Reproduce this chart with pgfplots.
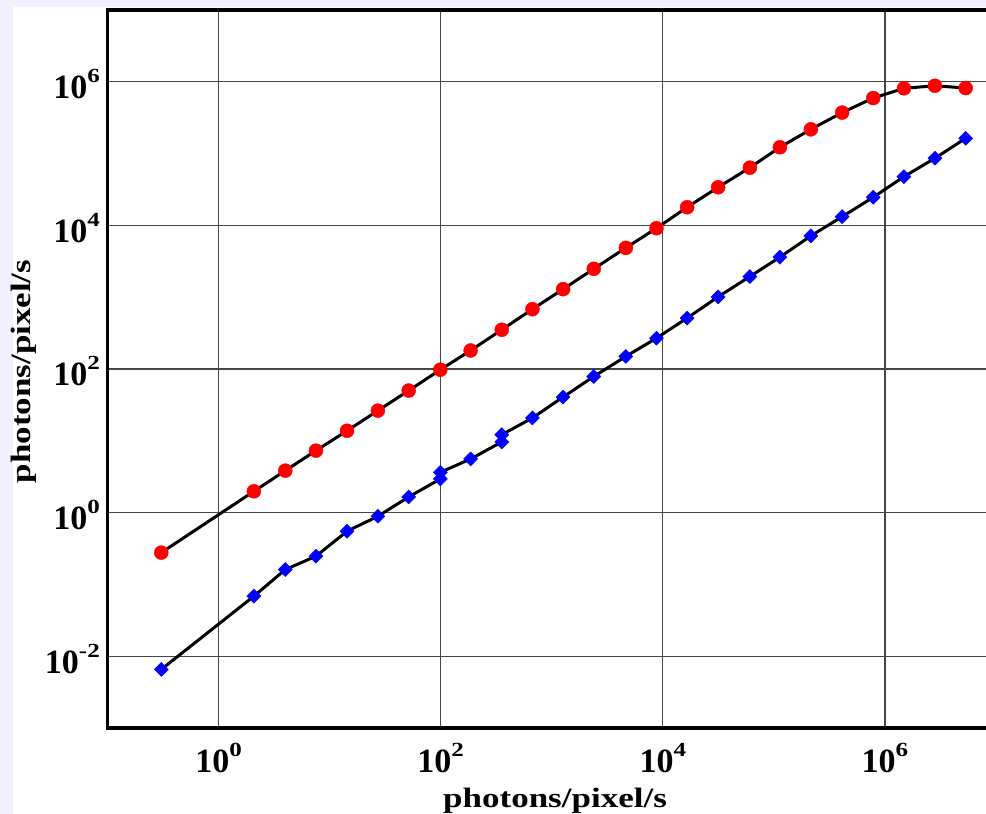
\documentclass[border=0pt]{standalone}
\usepackage{pgfplots}
\pgfplotsset{compat=1.18}
\usepackage{fontspec}
\setmainfont{Liberation Serif}
\newfontfamily\labfont[FakeStretch=1.25]{Liberation Serif}
\definecolor{lav}{RGB}{240,240,255}
\newcommand{\tlab}[1]{{\fontsize{34}{36}\selectfont\bfseries 10}\raisebox{16pt}{\labfont\fontsize{20}{20}\selectfont\bfseries #1}}
\begin{document}
\begin{tikzpicture}
\useasboundingbox (0,0) rectangle (986pt,814pt);
\fill[lav] (0,0) rectangle (986pt,814pt);
\fill[white] (13pt,0) rectangle (986pt,807pt);
\begin{axis}[
  at={(107.5pt,86pt)}, anchor=south west,
  scale only axis, width=888.5pt, height=718pt,
  xmode=log, ymode=log,
  xmin=0.1, xmax=1e7, ymin=1e-3, ymax=1e7,
  xtick={1,100,10000,1000000},
  xticklabels={\tlab{0},\tlab{2},\tlab{4},\tlab{6}},
  ytick={0.01,1,100,10000,1000000},
  yticklabels={\tlab{-2},\tlab{0},\tlab{2},\tlab{4},\tlab{6}},
  minor xtick={}, minor ytick={},
  xmajorgrids, ymajorgrids,
  major grid style={line width=1.3pt, black!72},
  axis line style={line width=3.5pt},
  major tick length=0pt,
  xticklabel style={anchor=north, inner sep=0pt, yshift=-15pt},
  yticklabel style={anchor=east, inner sep=0pt, xshift=-7.5pt, yshift=-2.5pt},
  label style={font=\labfont\bfseries\fontsize{28}{30}\selectfont},
  xlabel={photons/pixel/s},
  ylabel={photons/pixel/s},
  xlabel style={at={(axis description cs:0.5037,-0.1114)}, anchor=base},
  ylabel style={at={(axis description cs:-0.0861,0.4965)}, anchor=base},
]
\addplot[black, line width=3pt, line join=round, mark=*, mark size=7pt,
  mark options={fill=red, draw=red, line width=0.4pt}] table {
x y
0.305 0.277
2.08 1.98
3.99 3.84
7.53 7.29
14.35 13.8
27.2 26.3
51.5 50.1
99.3 97.7
186 181
355 352
670 682
1265 1294
2390 2483
4645 4864
8770 9141
16560 17910
31480 33960
60800 63680
113200 122500
215300 217800
412100 372400
785200 594300
1483000 810900
2818000 881000
5333000 818400
};
\addplot[black, line width=3pt, line join=round, mark=square*, mark size=5pt,
  mark options={fill=blue, draw=blue, line width=0.4pt, rotate=45}] table {
x y
0.305 0.00655
2.08 0.0685
3.99 0.161
7.53 0.247
14.35 0.550
27.2 0.889
51.5 1.652
99.3 2.944
99.3 3.639
186 5.585
355 9.64
355 12.16
670 20.8
1265 40.7
2390 78.7
4645 149.6
8770 269
16560 512
31480 1012
60800 1941
113200 3606
215300 7145
412100 13240
785200 24660
1483000 47750
2818000 86100
5333000 163300
};
\end{axis}
\end{tikzpicture}
\end{document}
